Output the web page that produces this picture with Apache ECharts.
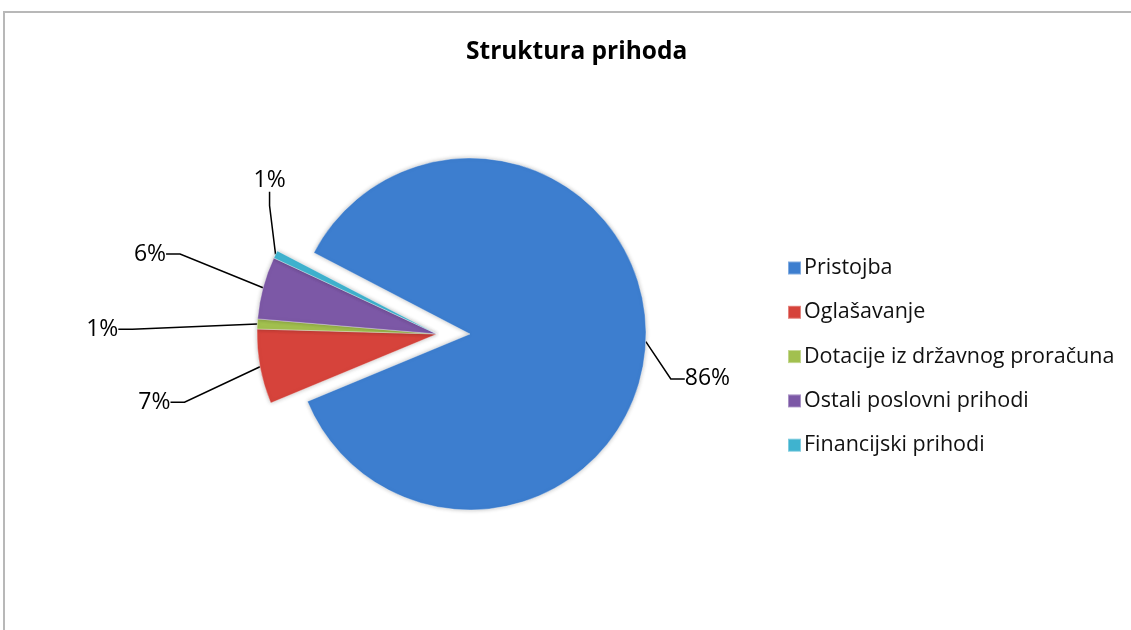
<!DOCTYPE html>
<html>
<head>
<meta charset="utf-8">
<script src="https://cdn.jsdelivr.net/npm/echarts@6/dist/echarts.min.js"></script>
<style>
  html, body { margin: 0; padding: 0; background: #fff; }
  #pie { width: 1131px; height: 630px; }
</style>
</head>
<body>
<div id="pie"></div>
<script>
var categories = ['Pristojba', 'Oglašavanje', 'Dotacije iz državnog proračuna', 'Ostali poslovni prihodi', 'Financijski prihodi'];
var values = [86.1, 6.7, 0.9, 5.6, 0.7];
var colors = ['#3d7ecf', '#d6433b', '#a2c04f', '#7c58a6', '#3fb3cf'];

var chart = echarts.init(document.getElementById('pie'));

// the big slice is pulled out, so it gets its own pie with a shifted centre;
// in each pie the slices of the other one are left see-through
function buildData(exploded) {
  var out = [];
  for (var i = 0; i < categories.length; i++) {
    var visible = exploded ? i === 0 : i !== 0;
    out.push({
      name: categories[i],
      value: values[i],
      itemStyle: visible ? { color: colors[i] } : { color: 'transparent', borderWidth: 0, shadowBlur: 0 },
      label: { show: visible },
      labelLine: { show: visible }
    });
  }
  return out;
}

// nudge labels roughly where the original sheet put them
var labelShift = [[-10, 36], [-41, 30], [-90, 7], [-49, -26], [56, -61]];

function placeLabel(p) {
  var s = labelShift[p.dataIndex];
  var r = p.labelRect;
  var ax = p.align === 'right' ? r.x + r.width : (p.align === 'center' ? r.x + r.width / 2 : r.x);
  return { x: ax + s[0], y: r.y + r.height / 2 + s[1] };
}

var legendData = [];
for (var k = 0; k < categories.length; k++) {
  legendData.push({ name: categories[k], itemStyle: { color: colors[k] } });
}

var pieBase = {
  type: 'pie',
  startAngle: 152.5,
  clockwise: true,
  avoidLabelOverlap: false,
  itemStyle: {
    borderColor: 'rgba(255,255,255,0.35)',
    borderWidth: 1,
    shadowColor: 'rgba(0,0,0,0.25)',
    shadowBlur: 4
  },
  label: {
    position: 'outside',
    formatter: function (p) { return Math.round(p.value) + '%'; },
    fontFamily: 'Open Sans',
    fontSize: 23,
    color: '#000'
  },
  labelLine: {
    length: 30,
    length2: 14,
    lineStyle: { color: '#000', width: 1.5 }
  },
  labelLayout: placeLabel,
  emphasis: { scale: false }
};

var option = {
  backgroundColor: '#fff',
  title: {
    text: 'Struktura prihoda',
    left: 461,
    top: 35,
    textStyle: { fontFamily: 'Open Sans', fontSize: 24.5, fontWeight: 'bold', color: '#000' }
  },
  legend: {
    orient: 'vertical',
    left: 782,
    top: 252,
    icon: 'rect',
    itemWidth: 13,
    itemHeight: 13,
    itemGap: 22.3,
    textStyle: { fontFamily: 'Open Sans', fontSize: 21.5, color: '#111', padding: [0, 0, 0, -2] },
    data: legendData
  },
  graphic: [{
    type: 'rect',
    shape: { x: 4, y: 12, width: 1200, height: 700 },
    style: { fill: 'none', stroke: '#b8b8b8', lineWidth: 2 },
    silent: true
  }],
  series: [
    echarts.util.merge({ name: 'Struktura prihoda', center: [437, 334], radius: 180, data: buildData(false) }, pieBase),
    echarts.util.merge({ name: 'Pristojba', center: [470, 334], radius: 176, data: buildData(true) }, pieBase)
  ]
};
chart.setOption(option);
</script>
</body>
</html>
